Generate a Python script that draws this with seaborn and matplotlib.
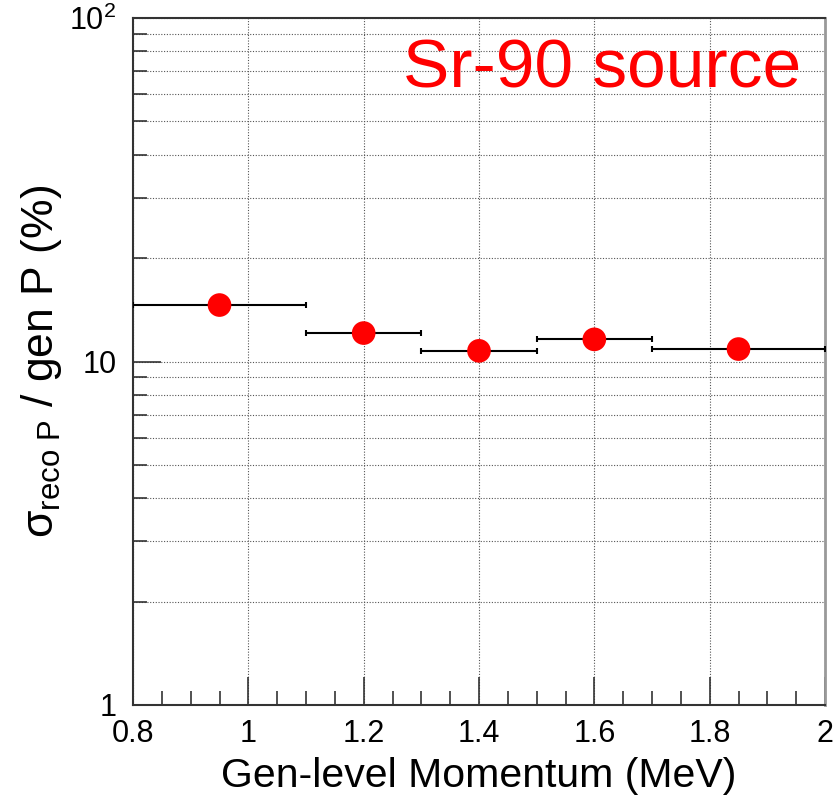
import numpy as np
import pandas as pd
import matplotlib
matplotlib.use("Agg")
import matplotlib.pyplot as plt
import seaborn as sns
from matplotlib.ticker import FixedLocator, FixedFormatter, LogLocator, NullFormatter, MultipleLocator

# Data
momentum = [0.95, 1.2, 1.4, 1.6, 1.85]
bin_low = [0.8, 1.1, 1.3, 1.5, 1.7]
bin_high = [1.1, 1.3, 1.5, 1.7, 2.0]
resolution = [14.6, 12.1, 10.74, 11.6, 10.87]
ytick_vals = [1, 10, 100]
ytick_labels = ["1", "10", "10$^{2}$"]
xtick_vals = [0.8, 1.0, 1.2, 1.4, 1.6, 1.8, 2.0]
xtick_labels = ["0.8", "1", "1.2", "1.4", "1.6", "1.8", "2"]

sns.set_style("white")
plt.rcParams["font.family"] = ["Liberation Sans", "DejaVu Sans"]
plt.rcParams["mathtext.fontset"] = "custom"
plt.rcParams["mathtext.rm"] = "Liberation Sans"
plt.rcParams["mathtext.it"] = "Liberation Sans:italic"
plt.rcParams["mathtext.default"] = "regular"
plt.rcParams["text.color"] = "black"
plt.rcParams["axes.labelcolor"] = "black"
plt.rcParams["xtick.color"] = "black"
plt.rcParams["ytick.color"] = "black"

df = pd.DataFrame({"x": momentum, "y": resolution, "lo": bin_low, "hi": bin_high})

fig = plt.figure(figsize=(8.33, 7.98), dpi=100)
ax = fig.add_axes([133/833, 1-705/798, (825-133)/833, (705-18)/798])

xerr = np.array([df["x"] - df["lo"], df["hi"] - df["x"]])
ax.errorbar(df["x"], df["y"], xerr=xerr, fmt="none", ecolor="black",
            elinewidth=1.5, capsize=2.5, capthick=1.5, zorder=3)
sns.scatterplot(data=df, x="x", y="y", ax=ax, color="#ff0000", s=290,
                edgecolor="none", linewidth=0, zorder=4, legend=False)

ax.set_yscale("log")
ax.set_xlim(0.8, 2.0)
ax.set_ylim(1, 100)

ax.xaxis.set_major_locator(FixedLocator(xtick_vals))
ax.xaxis.set_major_formatter(FixedFormatter(xtick_labels))
ax.xaxis.set_minor_locator(MultipleLocator(0.05))
ax.yaxis.set_major_locator(FixedLocator(ytick_vals))
ax.yaxis.set_major_formatter(FixedFormatter(ytick_labels))
ax.yaxis.set_minor_locator(LogLocator(base=10, subs=np.arange(2, 10)))
ax.yaxis.set_minor_formatter(NullFormatter())

ax.tick_params(axis="both", which="major", direction="in", length=20, width=1.2,
               color="#333333", labelsize=22, bottom=True, left=True, top=False, right=False)
ax.tick_params(axis="both", which="minor", direction="in", length=10, width=1.2,
               color="#333333", bottom=True, left=True, top=False, right=False)
ax.tick_params(axis="x", which="major", pad=10)
ax.tick_params(axis="y", which="major", pad=12)

ax.grid(True, which="major", axis="both", linestyle=(0, (1, 1.5)), color="#555555", linewidth=0.8)
ax.grid(True, which="minor", axis="y", linestyle=(0, (1, 1.5)), color="#555555", linewidth=0.8)

for side in ["left", "bottom", "top"]:
    ax.spines[side].set_color("#333333")
    ax.spines[side].set_linewidth(1.5)
ax.spines["right"].set_color("#999999")
ax.spines["right"].set_linewidth(2)

ax.set_xlabel("Gen-level Momentum (MeV)", fontsize=29.5, labelpad=6)
ax.set_ylabel("σ$_{\\mathrm{reco\\ P}}$ / gen P (%)", fontsize=32, labelpad=4)

ax.text(0.965, 0.925, "Sr-90 source", transform=ax.transAxes, ha="right", va="center",
        color="#ff0000", fontsize=50)

fig.savefig("out.png", dpi=100)
